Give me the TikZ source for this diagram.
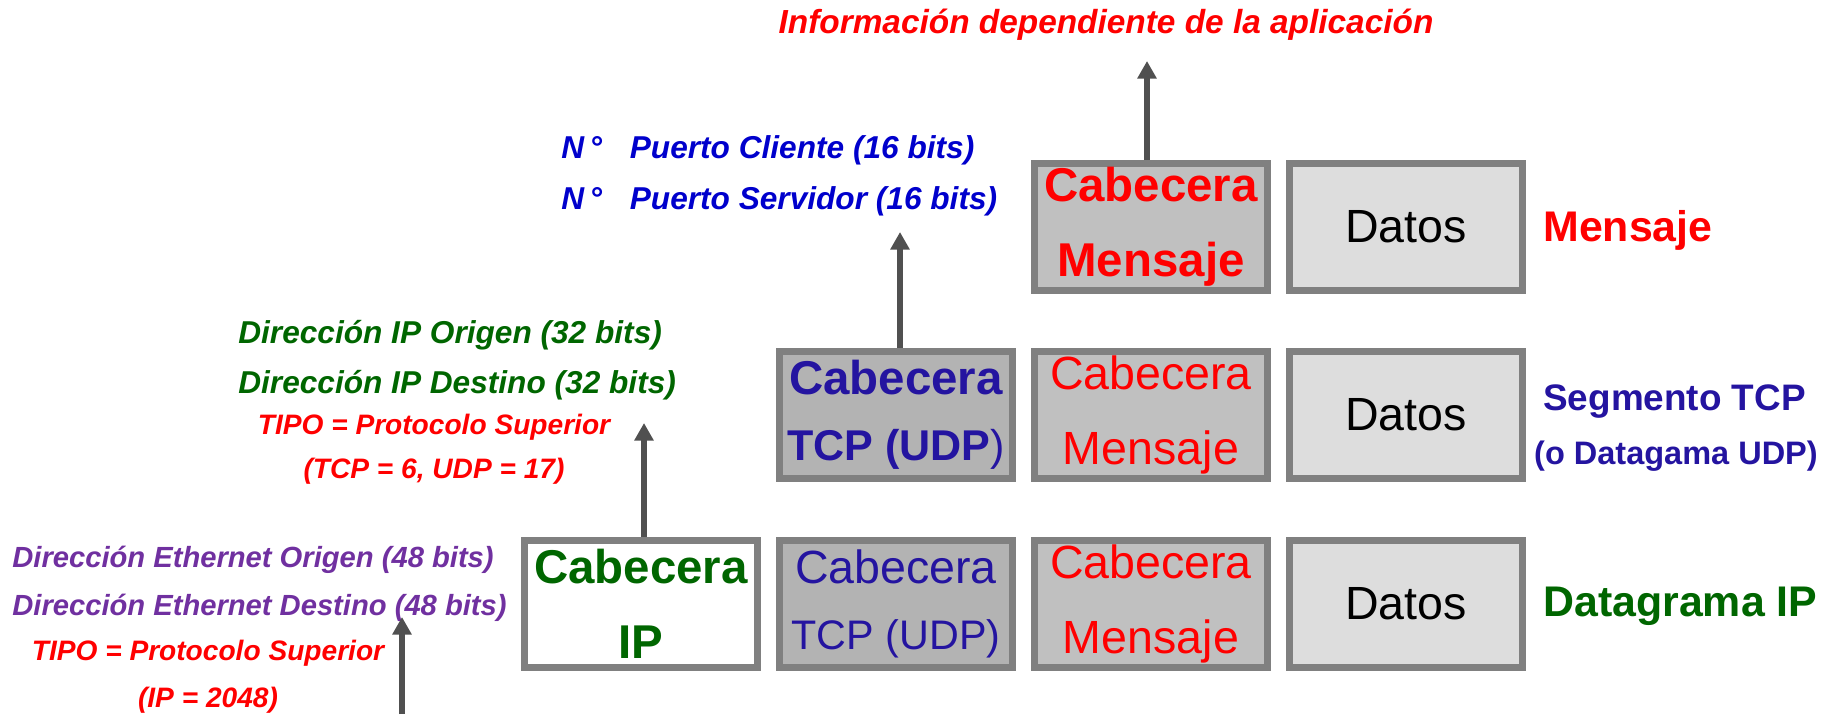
\documentclass[tikz,border=0pt]{standalone}
\usepackage{fontspec}
\setmainfont{Liberation Sans}
\usepackage{xcolor}
\usetikzlibrary{arrows.meta, positioning}

\definecolor{frame}{RGB}{128,128,128}
\definecolor{hdrDark}{RGB}{179,179,179}
\definecolor{hdrLight}{RGB}{192,192,192}
\definecolor{dataFill}{RGB}{221,221,221}
\definecolor{arrowc}{RGB}{80,80,80}
\definecolor{ipGreen}{RGB}{0,102,0}
\definecolor{tcpBlue}{RGB}{36,20,160}
\definecolor{portBlue}{RGB}{0,0,204}
\definecolor{ethPurple}{RGB}{112,48,160}
\definecolor{msgRed}{RGB}{255,0,0}

\newcommand{\tcpline}[2][23.5]{\\[-5pt]{\fontsize{#1}{#1}\selectfont #2}}

\begin{document}
\begin{tikzpicture}[x=0.02cm, y=-0.02cm, >={Triangle[length=10pt, width=10.5pt]},
    cell/.style={draw=frame, line width=4pt, minimum width=4.66cm, minimum height=2.54cm,
        inner sep=0pt, align=center, font=\fontsize{26.5}{42.5}\selectfont},
    cellbf/.style={cell, font=\fontsize{27}{42.5}\selectfont\bfseries},
    note/.style 2 args={inner sep=0pt, font=\fontsize{#1}{#2}\selectfont\bfseries\itshape},
    tag/.style={inner sep=0pt, anchor=west, font=\fontsize{#1}{#1}\selectfont\bfseries},
    uparrow/.style={->, draw=arrowc, line width=3.4pt}]
    \useasboundingbox (0,0) rectangle (1833,714);

    % bottom row: datagrama IP
    \node[cellbf, fill=white, text=ipGreen] (ipHdr) at (641,604) {Cabecera\\IP};
    \node[cell, fill=hdrDark, text=tcpBlue, right=0.3cm of ipHdr] (tcpLow) {Cabecera\tcpline{TCP (UDP)}};
    \node[cell, fill=hdrLight, text=msgRed, right=0.3cm of tcpLow] (msgLow) {Cabecera\\Mensaje};
    \node[cell, fill=dataFill, right=0.3cm of msgLow] (datLow) {Datos};
    \node[tag=24.4, text=ipGreen] (lblIP) at (1543,606) {Datagrama IP};

    % middle row: segmento TCP
    \node[cellbf, fill=hdrDark, text=tcpBlue] (tcpMid) at (896,415) {Cabecera\tcpline[24.5]{TCP (UDP{\mdseries)}}};
    \node[cell, fill=hdrLight, text=msgRed, right=0.3cm of tcpMid] (msgMid) {Cabecera\\Mensaje};
    \node[cell, fill=dataFill, right=0.3cm of msgMid] (datMid) {Datos};
    \node[tag=21, text=tcpBlue] (lblTCP) at (1543,402) {Segmento TCP};
    \node[inner sep=0pt, font=\fontsize{18.5}{18.5}\selectfont\bfseries, text=tcpBlue] (lblUDP) at (1676,456) {(o Datagama UDP)};

    % top row: mensaje
    \node[cellbf, fill=hdrLight, text=msgRed] (msgTop) at (1151,227) {Cabecera\\Mensaje};
    \node[cell, fill=dataFill, right=0.3cm of msgTop] (datTop) {Datos};
    \node[tag=24.4, text=msgRed] (lblMsg) at (1543,230) {Mensaje};

    % campos de cada cabecera
    \node[note={19}{23}, text=msgRed] (appInfo) at (1106,25) {Información dependiente de la aplicación};
    \node[note={18}{28.9}, text=portBlue, anchor=west, align=left] (ports) at (561,176)
        {N\,°\hspace{0.6em} Puerto Cliente (16 bits)\\N\,°\hspace{0.6em} Puerto Servidor (16 bits)};
    \node[note={18}{28.3}, text=ipGreen, anchor=west, align=left] (ipAddr) at (238,360)
        {Dirección IP Origen (32 bits)\\Dirección IP Destino (32 bits)};
    \node[note={16}{25}, text=msgRed, align=center] (ipType) at (434,449)
        {TIPO = Protocolo Superior\\(TCP = 6, UDP = 17)};
    \node[note={16.6}{27.2}, text=ethPurple, anchor=west, align=left] (ethAddr) at (12,584)
        {Dirección Ethernet Origen (48 bits)\\Dirección Ethernet Destino (48 bits)};
    \node[note={16}{26.6}, text=msgRed, align=center] (ethType) at (208,677)
        {TIPO = Protocolo Superior\\(IP = 2048)};

    % flechas hacia el nivel superior
    \coordinate (tipApp) at (1147,61);
    \coordinate (tipPort) at (900,232);
    \coordinate (tipIP) at (644,423);
    \coordinate (ethBase) at (402,714);
    \coordinate (ethTip) at (402,617);
    \draw[uparrow] (msgTop.north -| tipApp) -- (tipApp);
    \draw[uparrow] (tcpMid.north -| tipPort) -- (tipPort);
    \draw[uparrow] (ipHdr.north -| tipIP) -- (tipIP);
    \draw[uparrow] (ethBase) -- (ethTip);
\end{tikzpicture}
\end{document}
